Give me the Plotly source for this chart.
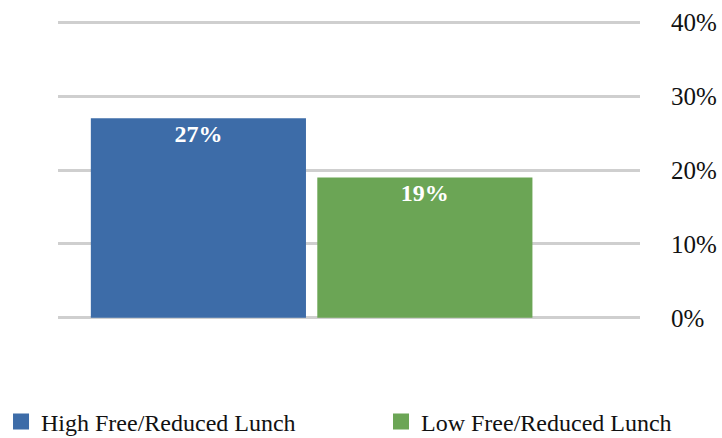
import plotly.graph_objects as go

categories = ["High Free/Reduced Lunch", "Low Free/Reduced Lunch"]
values = [27, 19]
labels = ["27%", "19%"]
colors = ["#3d6ca8", "#6ba555"]
tick_vals = [0, 10, 20, 30, 40]
tick_text = ["0%", "10%", "20%", "30%", "40%"]

font_family = "Liberation Serif, DejaVu Serif, serif"
legend_ids = ["legend", "legend2"]

fig = go.Figure()
for i, (cat, v, lab, c) in enumerate(zip(categories, values, labels, colors)):
    fig.add_trace(go.Bar(
        x=[i], y=[v], name=cat, width=0.95, showlegend=False,
        marker=dict(color=c, line=dict(width=0)),
        text=[lab], textposition="inside", insidetextanchor="end",
        textfont=dict(color="white", size=24, family=font_family),
        texttemplate="<b>%{text}</b>",
    ))
    # legend-only entry with a larger square swatch
    fig.add_trace(go.Scatter(
        x=[None], y=[None], mode="markers", name=cat, legend=legend_ids[i],
        marker=dict(symbol="square", size=16, color=c, line=dict(width=0)),
        hoverinfo="skip",
    ))

legend_common = dict(orientation="h", xanchor="left", y=-0.34, yanchor="middle",
                     font=dict(size=24, family=font_family), itemwidth=30,
                     bgcolor="rgba(0,0,0,0)")

fig.update_layout(
    width=722, height=438,
    margin=dict(l=58, r=82, t=20, b=118, autoexpand=False),
    paper_bgcolor="white", plot_bgcolor="white",
    font=dict(family=font_family, color="#111111"),
    showlegend=True,
    legend=dict(x=-0.0979, **legend_common),
    legend2=dict(x=0.555, **legend_common),
    xaxis=dict(range=[-0.62, 1.95], showticklabels=False, showgrid=False, zeroline=False,
               showline=False),
    yaxis=dict(range=[-0.3, 40.3], side="right", tickvals=tick_vals, ticktext=tick_text,
               tickfont=dict(size=25, family=font_family, color="#111111"),
               showgrid=True, gridcolor="#cfcfcf", gridwidth=3, zeroline=False,
               ticklabelstandoff=30, showline=False),
)

fig.write_html("out.html", config={"displayModeBar": False},
               post_script="document.body.style.margin='0';document.body.style.overflow='hidden';")
